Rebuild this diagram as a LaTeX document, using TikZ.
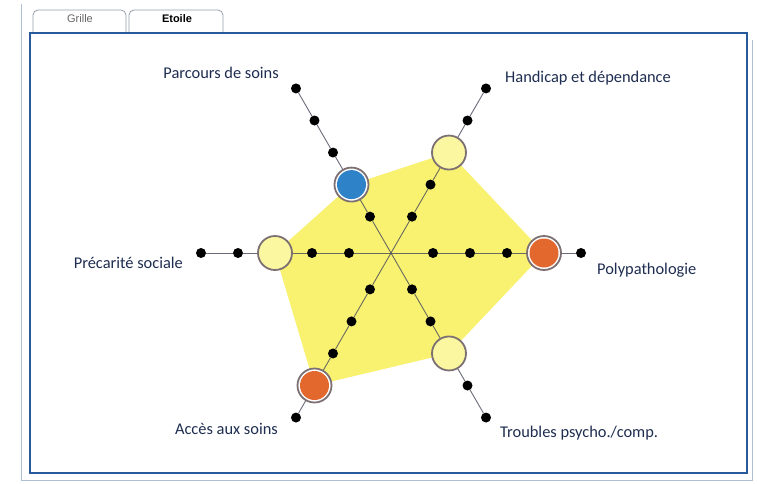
\documentclass[tikz,border=0pt]{standalone}
\usepackage{fontspec}
\newfontfamily\labelfont{Carlito}
\newfontfamily\tabfont{Liberation Sans}
\definecolor{starfill}{RGB}{248,242,112}
\definecolor{paleyellow}{RGB}{250,247,160}
\definecolor{orangefill}{RGB}{226,104,45}
\definecolor{bluefill}{RGB}{45,130,200}
\definecolor{ringgrey}{RGB}{125,112,115}
\definecolor{axisgrey}{RGB}{70,72,90}
\definecolor{frameblue}{RGB}{40,90,155}
\definecolor{outerblue}{RGB}{175,192,212}
\definecolor{tabgrey}{RGB}{150,160,175}
\definecolor{labeltext}{RGB}{30,45,80}
\tikzset{
  axisline/.style={draw=axisgrey, draw opacity=0.8, line width=0.9pt},
  dot/.style={circle, fill=black, inner sep=0pt, minimum size=10pt},
  level/.style={circle, draw=ringgrey, line width=1.8pt, inner sep=0pt, minimum size=34pt},
  lbl/.style={font=\labelfont\fontsize{16.4}{19}\selectfont, text=labeltext, inner sep=0pt},
  tabtext/.style={font=\tabfont\fontsize{11}{13}\selectfont, inner sep=0pt, anchor=base},
  tab/.style={draw=tabgrey, line width=0.8pt, rounded corners=5pt}
}
\begin{document}
\begin{tikzpicture}[x=1pt,y=1pt]
    \useasboundingbox (-391,-230) rectangle (366,253);
    \fill[white] (-391,-230) rectangle (366,253);

    % window and tabs
    \draw[outerblue, line width=1pt] (-369,249) -- (-369,-227) -- (361,-227) -- (361,213);
    \draw[tab] (-358,221) |- (-265,243) -- (-265,221);
    \draw[tab] (-262,221) |- (-168,243) -- (-168,221);
    \node[tabtext, text=black!60] (grille) at (-311,231) {Grille};
    \node[tabtext, text=black] (etoile) at (-214,231) {\bfseries Etoile};
    \draw[frameblue, line width=1.6pt] (-361,-220) rectangle (356,220);

    % star
    \coordinate (c) at (0,0);
    \fill[starfill] (0:153) -- (60:116) -- (120:79) -- (180:116) -- (240:153) -- (300:116) -- cycle;
    \foreach \ang/\lev/\ring/\col in {0/4/white/orangefill, 60/3/paleyellow/paleyellow,
        120/2/white/bluefill, 180/3/paleyellow/paleyellow, 240/4/white/orangefill,
        300/3/paleyellow/paleyellow}{
      \foreach \k in {1,...,5}{
        \ifnum\k=\lev
          \node[level, fill=\ring, path picture={\fill[\col] (path picture bounding box.center) circle (14.5);}] (d\ang-\k) at (\ang:{5+37*\k}) {};
        \else
          \node[dot] (d\ang-\k) at (\ang:{5+37*\k}) {};
        \fi
      }
      \draw[axisline] (c) -- (d\ang-1) -- (d\ang-2) -- (d\ang-3) -- (d\ang-4) -- (d\ang-5);
    }

    % labels
    \node[lbl, anchor=base east] (parcours) at (-112,175) {Parcours de soins};
    \node[lbl, anchor=base west] (handicap) at (114,171) {Handicap et dépendance};
    \node[lbl, anchor=base east] (precarite) at (-208,-15) {Précarité sociale};
    \node[lbl, anchor=base west] (poly) at (206,-21) {Polypathologie};
    \node[lbl, anchor=base east] (acces) at (-113,-181) {Accès aux soins};
    \node[lbl, anchor=base west] (troubles) at (109,-184) {Troubles psycho./comp.};
\end{tikzpicture}
\end{document}
